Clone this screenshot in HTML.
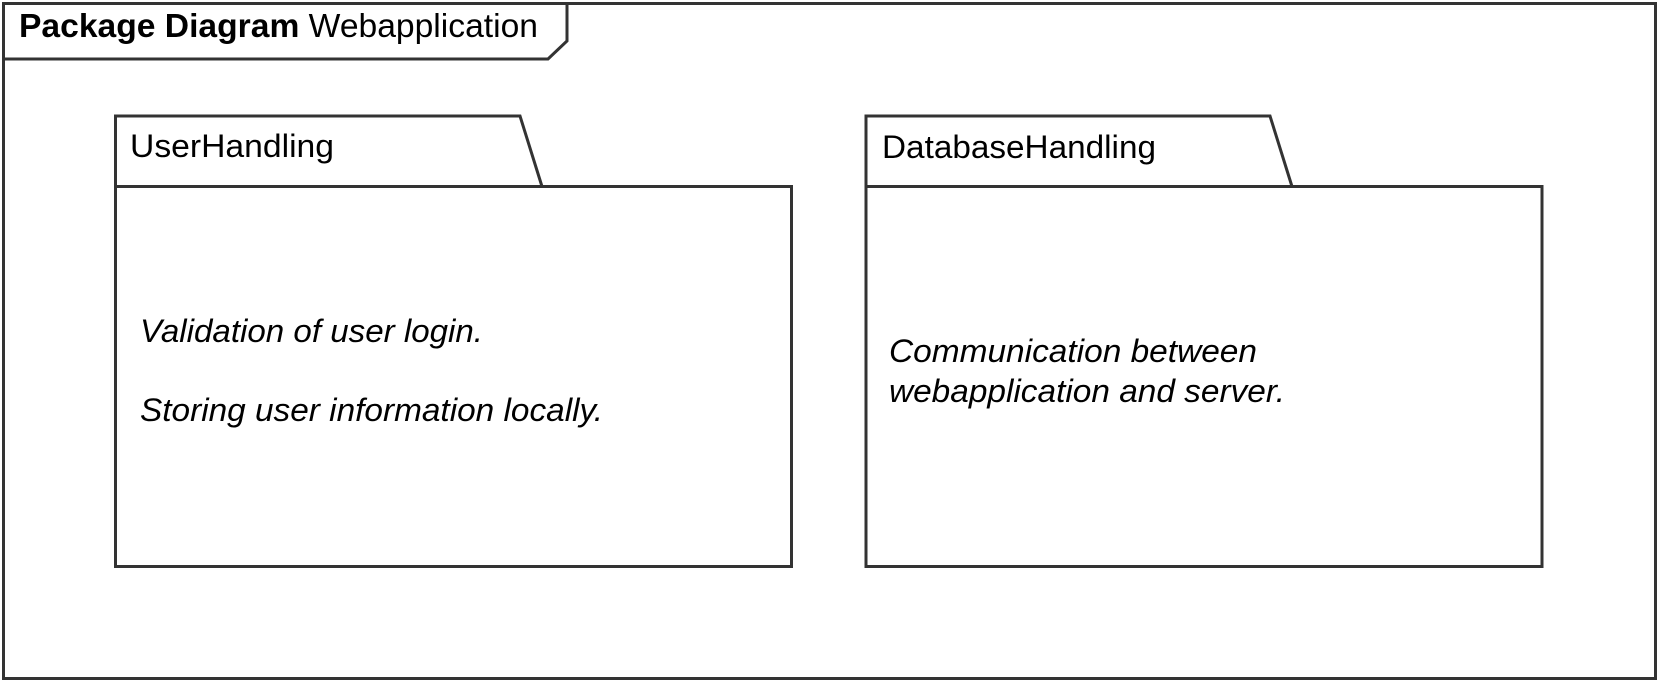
<!DOCTYPE html>
<html><head><meta charset="utf-8"><style>html,body{margin:0;padding:0;background:#fff;}svg{display:block}</style></head>
<body>
<svg width="1659" height="682" viewBox="0 0 1659 682" xmlns="http://www.w3.org/2000/svg" font-family="Liberation Sans, Arial, sans-serif">
<rect x="0" y="0" width="1659" height="682" fill="#fff"/>
<g fill="none" stroke="#333" stroke-width="3">
<rect x="3.5" y="3.5" width="1652" height="675"/>
<path d="M3.5 59 H548 L567 41 V3.5"/>
<path d="M115.5 186.5 V116 H520 L542 186.5"/>
<rect x="115.5" y="186.5" width="676" height="380"/>
<path d="M866 186.5 V116 H1270 L1292 186.5"/>
<rect x="866" y="186.5" width="676" height="380"/>
</g>
<g fill="#000">
<text x="19" y="37" font-size="33" textLength="519" lengthAdjust="spacingAndGlyphs"><tspan font-weight="bold">Package Diagram</tspan> Webapplication</text>
<text x="130" y="157" font-size="32" textLength="204" lengthAdjust="spacingAndGlyphs">UserHandling</text>
<text x="882" y="158" font-size="32" textLength="274" lengthAdjust="spacingAndGlyphs">DatabaseHandling</text>
<g font-style="italic" font-size="32">
<text x="140" y="342" textLength="343" lengthAdjust="spacingAndGlyphs">Validation of user login.</text>
<text x="140" y="421" textLength="463" lengthAdjust="spacingAndGlyphs">Storing user information locally.</text>
<text x="889" y="362" textLength="368" lengthAdjust="spacingAndGlyphs">Communication between</text>
<text x="889" y="402" textLength="396" lengthAdjust="spacingAndGlyphs">webapplication and server.</text>
</g>
</g>
</svg>
</body></html>
